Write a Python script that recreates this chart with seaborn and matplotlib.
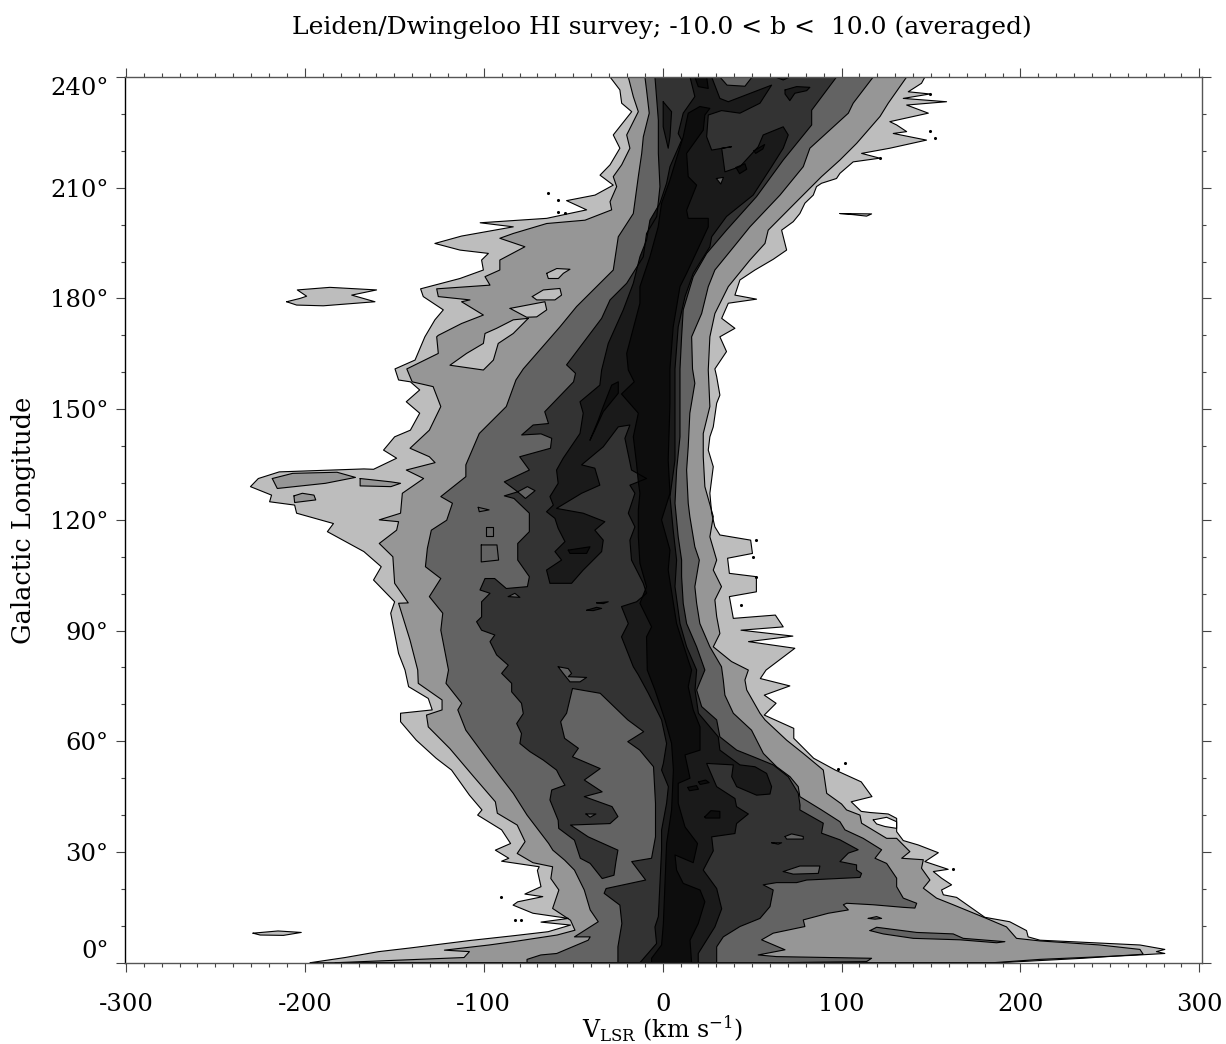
import matplotlib
matplotlib.use("Agg")
import matplotlib.pyplot as plt
import seaborn as sns
from matplotlib.ticker import MultipleLocator

# contour outlines as (velocity km/s, longitude deg)
# level 1 is the faintest HI contour, level 6 the brightest
L1_LEFT = [(-197, 0), (-177.5, 1.4), (-158.7, 3), (-141, 4), (-108, 6), (-83.5, 7.3), (-64, 8.4), (-51.5, 10.2),
           (-68, 11), (-52.6, 12), (-72.5, 13.4), (-83.6, 15.6), (-81, 16.5), (-67, 17.9), (-77, 18.6), (-68, 20.6),
           (-70, 25), (-69, 26), (-90, 27.5), (-86, 28.3), (-93.5, 30.5), (-85, 32.3), (-90, 36), (-103.4, 40),
           (-101, 41.4), (-108, 45.4), (-118, 52.2), (-126.6, 55.4), (-137.7, 60.3), (-146.5, 65.3), (-146.5, 67.6),
           (-128.8, 68.5), (-131, 71.6), (-142, 74.8), (-144, 79.3), (-147.6, 83.8), (-149.8, 89.2), (-152, 94.7),
           (-149.8, 97.8), (-161.6, 103.7), (-157.3, 107.3), (-167, 111.4), (-187.4, 116.8), (-184, 119),
           (-204.6, 121.8), (-205.7, 124), (-219.7, 124.9), (-218.6, 126.7), (-230.4, 129), (-226, 131.2),
           (-214.3, 133), (-167, 133.8), (-161.6, 133.7), (-148.7, 136.7), (-156, 138.9), (-149.8, 142.5), (-141, 144.3),
           (-135.8, 148.9), (-143.3, 152), (-135.8, 155.2), (-141, 157.4), (-147.6, 157.9), (-149.6, 160.9),
           (-138.4, 163.3), (-132.9, 169.6), (-127.3, 174.2), (-122.6, 176.9), (-133.8, 180.5), (-135.3, 182.6),
           (-113.3, 185.4), (-100.2, 187.7), (-101.2, 190.4), (-97.4, 192.2), (-113.3, 193.1), (-127.3, 194.9),
           (-112.4, 196.9), (-83.5, 199.4), (-102, 200.5), (-64.8, 201.7), (-42.5, 204), (-53.7, 206.5),
           (-37.8, 208), (-27.6, 210.7), (-35, 213.4), (-29.4, 216.2), (-23.9, 220.7), (-27.6, 224.3),
           (-17.3, 230.6), (-22.9, 232.9), (-23.9, 236.5), (-29.4, 240)]
L1_RIGHT = [(184.8, 0), (210.9, 0.9), (263, 2), (280.7, 2.5), (276, 3), (280.7, 3.6), (266.8, 4.8), (210.9, 6.1),
            (204.3, 7), (203.4, 8.7), (194, 11.1), (180.1, 12.3), (164.3, 17.7), (156.9, 18.4), (155.9, 19.7),
            (161.5, 21.1), (155.9, 22.9), (151.3, 24.7), (159.6, 25.3), (146.6, 27.4), (154.1, 29.8), (142.9, 31.9),
            (134.5, 33.1), (130.8, 35.5), (130.8, 39.1), (126.1, 40.3), (115.9, 40.7), (111, 41), (105.4, 43.6),
            (117, 45), (111, 49), (96.5, 52.2), (84.4, 55.4), (73.3, 60.8), (73.3, 63.5), (56.8, 67.1), (63.4, 70.3),
            (56.8, 72.5), (71.1, 75), (54.6, 77), (57.8, 79.3), (73.9, 85.2), (48, 87), (72.8, 88.5), (43.8, 90.1),
            (67.4, 91), (63, 94.2), (39.5, 93.3), (37.3, 99.2), (52.4, 100.5), (52.4, 104.6), (37.3, 105.5),
            (36.3, 109.6), (50.2, 110.9), (49.2, 114.5), (32, 115.9), (29.2, 118.1), (27.4, 121.8), (26.4, 127.2),
            (28.3, 134.4), (25.5, 138.9), (26.4, 142.5), (28.3, 145.2), (30.2, 151.6), (32, 153.8), (30.2, 158.8),
            (29.2, 160.9), (35.7, 165.6), (32, 169.6), (40.4, 171.9),
            (33, 174.6), (36.7, 178.7), (52.5, 179.8), (40.4, 180.9), (43.2, 185), (51.6, 187.7), (61.8, 190.6),
            (69.3, 193.1), (66.5, 198.5), (73, 200.8), (76.7, 203), (79.5, 205.8), (84.2, 208), (86, 210.3),
            (88.8, 211.2), (97.2, 212.5), (99.1, 213.9), (106.5, 217), (121.4, 218),
            (111.2, 219.3), (127, 220.7), (147.5, 222.9), (128.9, 224.7), (136.4, 225.2), (130.8, 227), (127, 227.9),
            (148.5, 230.2), (136.4, 232.4), (158.7, 233.3), (134.5, 234.2), (149.4, 235.4), (137.3, 236),
            (144.7, 238.3), (146.6, 240)]

L2_LEFT = [(-183, 0), (-111, 1.4), (-108, 3), (-122, 3.4), (-97, 4.8), (-83.5, 5.7), (-59, 7.5), (-49, 8.8),
           (-51.5, 11.5), (-61.5, 14.7), (-58, 19.7), (-62.5, 22.8), (-61.5, 26), (-72.5, 27.1), (-81.3, 29.6),
           (-76.9, 32.8), (-81.3, 37.3), (-92.4, 40.5), (-93.5, 43.6), (-105.6, 50.4), (-118.9, 58), (-131, 63.9),
           (-132, 67.1), (-123.3, 68.5), (-123.3, 71.2), (-136.6, 75.7), (-136.9, 79.3), (-141.2, 87.4),
           (-147.6, 97.4), (-142.2, 97.5), (-149.8, 102.8), (-150.8, 110), (-158.4, 113.6), (-148.7, 117.2),
           (-147.6, 119.5), (-158.4, 120), (-146.5, 121.8), (-145.5, 127.2), (-133.6, 131.2), (-143.3, 133.5),
           (-127.2, 135.5), (-130.4, 137.1), (-141.2, 139.4), (-130.4, 144.3), (-124, 150.7), (-128.3, 156.1),
           (-140, 157.4), (-143, 160.9), (-125.4, 165.1), (-126.3, 169.6), (-125.4, 170), (-112.4, 173.2),
           (-100.2, 175.5), (-112.4, 179.1), (-107.7, 179.6), (-125.4, 180.5), (-126.3, 182.6), (-96.5, 183.6),
           (-99.3, 185.9), (-91, 187.7), (-91, 190.4), (-77, 194), (-91, 196.3), (-83.5, 197.6), (-64.8, 200.3),
           (-43.4, 201.2), (-28.5, 204), (-29.4, 206.2), (-25.7, 210.3), (-27.6, 213), (-22.9, 216.2), (-18.3, 220.7),
           (-20.1, 224.3), (-13.6, 230.6), (-16.4, 234.7), (-19.2, 240)]
L2_RIGHT = [(188.5, 0), (235, 1.2), (268.6, 2.3), (266.8, 3.6), (244.4, 4.8), (210.9, 5.9), (197.8, 6.6), (192.2, 9.7),
            (181, 12), (162.4, 15.7), (153.1, 17.5), (145.7, 20.2), (149.4, 22.4), (144.7, 25.6), (145.7, 27.9),
            (133.6, 28.3), (138.2, 30.1), (130.8, 33.7), (125.2, 33.7), (111.2, 37.8), (110.3, 40), (102.8, 41.4),
            (100, 43), (91.7, 45.9), (89.8, 52.2), (78.6, 56.7), (69.3, 60.3), (57.2, 65.8), (54.4, 67.6), (47, 73.9),
            (46, 76.6), (47.9, 79.3), (38.5, 81.6), (28.3, 85.6), (32, 89.2), (30.2, 93.8), (29.2, 98.3), (32.9, 101.9),
            (28.3, 106.4), (30.2, 109.1), (26.4, 115.4), (28.3, 120.9), (23.6, 129), (22.7, 137.1), (22.7, 143.4),
            (26.4, 150.7), (25.5, 160.6), (26.4, 169.6), (29.2, 175.9), (36.7, 183.2), (48.8, 190.4), (57.2, 194.9),
            (59, 198.5), (75.8, 206.7), (88.8, 213), (99.1, 217.5), (108.4, 222), (121.5, 229.3), (126.1, 232.9),
            (136.4, 240)]

L3_LEFT = [(-75.8, 0), (-75.8, 0.9), (-68.1, 2.1), (-59.2, 2.5), (-41.6, 6.1), (-40.5, 7), (-49.3, 7), (-36, 11.1),
           (-40.5, 14.3), (-43.8, 19.7), (-49.3, 25.1), (-54.8, 27.8), (-61.4, 30.5), (-63.7, 32.3), (-75.8, 40),
           (-83.5, 45.9), (-91.3, 50.8), (-101.2, 57.2), (-110, 63), (-114.5, 68.5), (-112.3, 70.3), (-121.1, 75.7),
           (-119.7, 79.3), (-124, 90.1), (-122.9, 94.7), (-130.4, 99.2), (-124, 104.1), (-132.6, 107.3),
           (-131.5, 112.3), (-129.3, 117.2), (-120.7, 119.9), (-117.5, 124.5), (-124, 126.3), (-110, 131.7),
           (-110, 134.9), (-102.5, 143.4), (-87.4, 150.7), (-82, 157.9), (-77.9, 160.9), (-57.4, 172.3),
           (-48.1, 177.8), (-27.6, 187.7), (-24.8, 196.7), (-16.4, 203), (-13.6, 213), (-11.7, 219.3), (-10.8, 223.8),
           (-7.5, 230.2), (-9, 236.5), (-9.9, 240)]
L3_RIGHT = [(63.7, 0), (114, 0.3), (116.8, 1.2), (63.7, 1.65), (53.4, 2.1), (68.4, 3.5), (55.3, 6.2), (61.8, 8),
            (79.5, 9.8), (78.6, 11.6), (92.6, 13.4), (103.8, 14.3), (101, 15.7), (102.8, 16.1), (117.7, 15.7),
            (134.5, 15), (141, 14.8), (142, 16.1), (134.5, 17.5), (130.8, 20.6), (130.8, 22.9), (125.2, 26.9),
            (118.7, 28.3), (122.4, 30.6), (112.1, 33.7), (101.9, 36), (99.1, 38.2), (88.8, 41.4), (76.7, 45),
            (75.8, 47.7), (71.2, 50.4), (63.7, 53.1), (56.3, 56.7), (49.7, 63), (39.5, 67.6), (34.8, 72.5),
            (33.9, 76.6), (32.9, 80.2), (26.4, 85.6), (20.8, 91.9), (19, 97.4), (18, 101.9), (20.5, 109.1),
            (18, 112.7), (15.2, 120.9), (14.3, 124.5), (13.4, 133.5), (14.3, 139.8), (15.2, 148.9), (18, 157),
            (16.7, 160.9), (16.2, 169.6), (21.8, 175.9), (25.5, 183.2), (29.2, 187.7), (41.3, 194.9), (48.8, 199.4),
            (65.6, 208), (78.6, 215.7), (82.3, 220.7), (103.8, 230.2), (106.5, 232.9), (117.7, 240)]

L4_LEFT = [(-25, 0), (-25, 4.3), (-22.8, 10.6), (-23.9, 15.6), (-32.7, 18.8), (-31.6, 20.1), (-9.5, 22.4), (-17.3, 27.4),
           (-6.2, 28.3), (-4, 34.1), (-4, 43.2), (-5.1, 53.1), (-12.8, 57.6), (-19.5, 59.9), (-10.6, 62.6),
           (-19.5, 65.8), (-34.9, 73), (-50.4, 74.3), (-53.7, 67.6), (-57, 65.3), (-54.8, 60.8), (-47.1, 58.1),
           (-50.4, 55.8), (-34.9, 52.6), (-43.8, 49.5), (-33.8, 46.3), (-43.8, 45), (-28.3, 42.3), (-25, 39.6),
           (-29.4, 37.7), (-51.5, 37.3), (-41.6, 34.1), (-25, 30.5), (-26.1, 27.4), (-27.2, 23.7), (-33.8, 22.8),
           (-40.5, 26.9), (-46, 28.3), (-49.3, 33.2), (-58.1, 36.4), (-58.4, 38.6), (-63, 44.1), (-62, 46.8),
           (-54.6, 48.1), (-57.4, 50.4), (-59.3, 52.2), (-66.7, 54.9), (-74.2, 57.2), (-79.8, 59.4), (-78.9, 62.1),
           (-81.6, 64.8), (-77.9, 67.5), (-78.9, 70.3), (-84.4, 73.4), (-84.4, 75.7), (-90, 78.4), (-86.3, 80.6),
           (-92.8, 83.4), (-96.5, 87), (-93.8, 88.8), (-101.2, 90.1), (-104, 92.4), (-101.2, 93.7), (-101.2, 97.8),
           (-96.5, 100.1), (-102.1, 101), (-99.3, 104.1), (-93.9, 104.1), (-87.4, 101.4), (-75.6, 101.9),
           (-74.5, 104.6), (-81, 109.1), (-81, 113.6), (-74.5, 116.8), (-74.5, 121.8), (-83.1, 125.8), (-88.5, 126.5),
           (-81, 127.6), (-88.5, 130.3), (-74.5, 133.5), (-79.9, 137.1), (-62.7, 139.4), (-62, 142.1), (-68, 143.3),
           (-78.8, 143), (-72.4, 145.7), (-63.8, 146.1), (-65.9, 149.3), (-49.8, 157.4), (-48.7, 159.7), (-53.7, 162),
           (-34.1, 174.6), (-29.4, 179.6), (-20.1, 184.1), (-10.8, 191.3), (-9, 197.6), (-3.3, 202.2), (-1.5, 210.3),
           (-2.4, 219.3), (-2.4, 228.3), (-4.3, 240)]
L4_RIGHT = [(30.2, 0), (30.2, 4.3), (33.9, 7), (43.2, 9.8), (54.4, 12), (60, 15.2), (61.8, 19.7), (56.2, 21.1),
            (63.7, 21.7), (74.9, 21.7), (80.5, 22.4), (110.3, 23.1), (111.2, 24.2), (108.4, 25.1), (108.4, 26.5),
            (99.1, 27.4), (103.8, 29.7), (109.3, 30.6), (99.1, 33.3), (88.8, 35.1), (89.8, 37.8), (76.7, 41.4),
            (76.8, 42.7), (75.8, 45.9), (70.2, 50.4), (61.8, 53.6), (50.7, 55.8), (41.4, 57.6), (32, 61.2),
            (30.2, 65.8), (21.8, 69.4), (19, 73.9), (23.6, 79.3), (19, 85.6), (13.4, 91.9), (11.5, 97.4), (10.6, 104.6),
            (10.6, 109.1), (8.7, 115.4), (6.9, 124.5), (7.8, 133.5), (9.7, 142.5), (9.7, 151.6), (9.7, 160.9),
            (10.6, 169.6), (11.5, 176.9), (17.1, 185.9), (24.6, 192.2), (35.7, 198.5), (52.5, 207.6), (67.4, 217.5),
            (83.3, 227), (83.3, 231), (97.2, 240)]

L5_LEFT = [(-12.7, 0), (-3.4, 5.2), (-4.3, 9.7), (-2.4, 12.5), (-1.5, 21.5), (-0.6, 30.5), (-0.6, 35.9), (2.2, 43.2),
           (3.2, 47.7), (-0.6, 52.2), (0.4, 54), (2.2, 59.4), (-0.6, 65.8), (-8, 73), (-13.6, 78), (-16.4, 80.2),
           (-23, 88.3), (-19.2, 91.9), (-23, 96.5), (-14.6, 97.8), (-9, 100.1), (-10.8, 102.8), (-17.4, 109.1),
           (-18.3, 114.5), (-15.5, 118.1), (-19.2, 121.8), (-15.5, 127.2), (-18.3, 129.4), (-9, 131.2), (-17.4, 133.5),
           (-21.1, 142.1), (-18.3, 145.7), (-24.8, 145.2), (-33.2, 139.8), (-45.3, 134.9), (-37.9, 134), (-35.1, 129.4),
           (-45.3, 127.2), (-59.3, 123.1), (-44.4, 121.8), (-32.3, 119.5), (-37.9, 117.2), (-33.2, 114.5),
           (-34.1, 111.4), (-44.4, 106.4), (-50.9, 102.8), (-63, 102.8), (-64.9, 106.4), (-56.5, 109.1), (-60.2, 111.4),
           (-54.6, 114.1), (-58.4, 117.7), (-60.2, 120.4), (-64.9, 122.2), (-61.1, 124), (-63, 126.3), (-58.4, 129.9),
           (-59.3, 133.5), (-55.6, 136.7), (-46.2, 143.4), (-44.4, 148.9), (-46.2, 152), (-35.1, 156.5), (-34.1, 160.6),
           (-30.4, 167.8), (-22, 176.9), (-16.4, 184.1), (-12.7, 191.3), (-9, 195.8), (-7.1, 201.2), (-1.5, 205.8),
           (2.2, 211.2), (4.1, 215.7), (10.6, 222.9), (8.7, 224.7), (11.5, 230.2), (18, 234.7), (15.3, 240)]
L5_RIGHT = [(19.9, 0), (19.9, 2.5), (29.2, 9.7), (33, 14.6), (30.2, 20.1), (22.7, 25.1), (28.3, 30.3), (27.4, 34.1),
            (40.4, 35), (41.3, 37.7), (47.9, 40.3), (41.3, 42.3), (40.4, 44.5), (30.2, 47.7), (24.6, 54), (39.5, 53.6),
            (38.6, 50.4), (41.4, 47.7), (52.5, 45.4), (60, 45.7), (60.9, 47.7), (58.1, 51.3), (51.6, 53.1), (43.2, 53.6),
            (32, 57.6), (31.1, 61.2), (20, 67.6), (18.1, 73.9), (19, 79.3), (13.4, 85.6), (9.7, 91.9), (6.9, 101.9),
            (7.8, 109.1), (5.9, 117.2), (4.1, 126.3), (6.9, 136.2), (6.9, 147), (6.9, 160.9), (8.7, 172.3), (12.5, 180.5),
            (17.1, 186.8), (26.4, 194), (27.4, 196.7), (35.7, 202.2), (50.6, 208), (60.9, 215.7), (67.4, 220.7),
            (70.2, 224.3), (67.4, 226.5), (56.2, 224.3), (53.4, 221.1), (43.2, 215.7), (34.8, 214.3), (33, 220.7),
            (38.5, 221.1), (27.4, 220.2), (24.6, 223.8), (25.5, 229.7), (32.9, 230.9), (43.2, 230.2), (54.4, 232.9),
            (60.9, 237.8), (36.7, 233.3), (32, 234.2), (30.2, 236.5), (27.4, 240)]

L6_LEFT = [(-6.2, 0), (-6.2, 1.2), (-0.6, 4.8), (0.4, 10.6), (1.3, 21.5), (2.2, 32.3), (5, 41.4), (6, 52.2), (5, 59.4),
           (1.3, 65.8), (-4.3, 73.9), (-8.6, 79.3), (-9, 88.3), (-6.2, 91), (-12.7, 97.4), (-9, 101.9), (-12.7, 108.2),
           (-13.6, 115.4), (-13.6, 122.7), (-12.7, 127.2), (-13.6, 130.3), (-14.6, 135.3), (-16.4, 142.5),
           (-13.6, 148.9), (-23, 154.1), (-15.9, 157.4), (-19.2, 160.6), (-20.1, 165.1), (-12.7, 178.7), (-12.7, 183.2),
           (-7.1, 191.3), (-2.5, 199.4), (-0.6, 205.8), (4.1, 212.1), (6.9, 216.6), (11.5, 223.8), (14.3, 230.2),
           (20.8, 232)]
L6_RIGHT = [(16.2, 0), (15.3, 6.1), (19.9, 10.6), (23.6, 16.5), (20.9, 19.7), (11.5, 21.5), (7.8, 25.1), (6.9, 29.2),
            (17.1, 27.1), (19.5, 32.3), (12.5, 36.8), (8.7, 43.2), (8.7, 48.6), (15.3, 50), (12.5, 56.3), (20.9, 57.6),
            (20.9, 63.9), (17.1, 68.5), (14.3, 74.8), (16.2, 79.3), (14.3, 82), (7.8, 91.9), (3.1, 106.4), (4.1, 111.8),
            (-0.6, 120), (4.1, 127.2), (3.1, 136.2), (4.1, 151.6), (4.1, 160.9), (5.9, 172.3), (9.7, 183.2),
            (13.4, 186.8), (25.5, 199.4), (25.5, 201.7), (14.3, 201.7), (13.4, 203.9), (19, 210.7), (14.3, 213),
            (13.4, 219.3), (22.7, 225.6), (23.6, 229.7), (26.4, 231.5)]

# closed features: faint patches away from the main band and holes inside it
FAR_PATCH = [(-210.2, 179.1), (-202.7, 180), (-199, 180.6), (-204.2, 182.3), (-186, 183), (-159.9, 182.3),
             (-173.8, 180.9), (-160.8, 179.1), (-189.7, 178), (-204.6, 178.2)]
DASH_203 = [(99.1, 203), (116.8, 202.9), (114, 202.3), (106.5, 202.7)]
DASH_8 = [(-229, 8), (-215, 8.6), (-202, 8.2), (-212, 7.4), (-225, 7.5)]
HOLE_38 = [(117.7, 38.7), (125.2, 39.4), (130.8, 38.2), (130.8, 36.4), (124.3, 36.9), (119.6, 37.6)]

FAINT_A = [(-64.8, 186.8), (-59.2, 188.1), (-51.8, 187.9), (-55.5, 186.8), (-58.3, 185.4), (-63.9, 185.4)]
FAINT_B = [(-72.9, 180.5), (-66.7, 182.3), (-57.4, 182.7), (-56.5, 180.9), (-60.2, 179.6), (-70.4, 179.6)]
FAINT_C = [(-85.3, 177.3), (-65.8, 179.1), (-64.8, 176.9), (-70.4, 175), (-76, 174.9)]
FAINT_D = [(-75.1, 174.6), (-83.5, 174.2), (-92.8, 171.9), (-99.3, 170.5), (-100.2, 167.8), (-109.6, 165.1),
           (-118.9, 161.9), (-100.2, 160.6), (-94.6, 163.3), (-91.9, 167.8), (-83.5, 170.5)]

SPUR_A = [(-218.2, 131.2), (-206.8, 132.6), (-182, 132.9), (-171.7, 131.5), (-188.5, 129.9), (-215.4, 128.5)]
SPUR_B = [(-206.1, 126.5), (-201.4, 127.2), (-194.9, 126.7), (-193.9, 125.4), (-205.7, 124.7)]
SPUR_C = [(-169.1, 131.2), (-151.9, 130.3), (-146.5, 129.9), (-151.9, 129), (-169.1, 129.2)]

MID_A = [(-101.4, 113.2), (-92.6, 113.2), (-91.7, 109.1), (-101.4, 108.6)]
MID_B = [(-103.1, 123.4), (-97, 122.7), (-102.5, 122.2)]
MID_C = [(-98.5, 118), (-95, 118), (-95, 115.5), (-98.5, 115.5)]
SLIVER_A = [(115.9, 8.7), (119.6, 9.6), (142, 8.2), (162.4, 7.8), (168, 6.6), (191.3, 5.7), (186.7, 5.4), (166.2, 6.2),
            (140.1, 6.6), (123.3, 7.8)]
SLIVER_B = [(114.9, 12), (119.6, 12.5), (122.4, 12), (118.7, 11.8)]

POCKET_A = [(-81, 127.6), (-75.6, 129), (-71.3, 127.9), (-76.7, 125.8)]
POCKET_B = [(-86.3, 99.2), (-82.6, 100.1), (-79.8, 99)]
POCKET_C = [(-58.4, 80.2), (-52.8, 79.7), (-50.9, 78.4), (-52.8, 77.5), (-42.5, 77.3), (-46.2, 76.1), (-51.8, 76.1),
            (-55.6, 78.4)]
POCKET_D = [(-42.9, 40.3), (-37.3, 40.3), (-40.6, 39.4)]
POCKET_E = [(68.4, 34.2), (72.1, 34.9), (78.6, 34.2), (78.6, 33.5), (69.3, 33.5)]
POCKET_F = [(60.9, 32.5), (66.5, 32.5), (64.6, 32.1)]
POCKET_G = [(67.4, 24.7), (76.7, 26.2), (87.9, 26.2), (87, 24.2), (73, 24)]
POCKET_I = [(32, 240), (36, 237.8), (46, 237.5), (50, 240)]
POCKET_J = [(30, 212.5), (34, 212.8), (32.5, 211)]

BRIGHT_A = [(-42.5, 95.5), (-36.9, 96.3), (-34.1, 96), (-38.8, 95.4)]
BRIGHT_B = [(-36.9, 97.5), (-30.4, 97.8), (-33.2, 97.3)]
BRIGHT_C = [(0.3, 233.3), (5, 230.6), (4.1, 223.8), (3.1, 220.7), (0.3, 226.5)]
BRIGHT_D = [(68.4, 236.5), (74.9, 237.4), (82.3, 237.2), (80.5, 236.3), (73.9, 235.6), (71.1, 233.6), (68.4, 235.4)]
BRIGHT_E = [(62.8, 240), (71.1, 240), (67.4, 239.2)]

TOP_B = [(-52.8, 111.8), (-40.6, 112.7), (-42.5, 110.9), (-51.8, 110.9)]
TOP_C = [(-40.6, 141.6), (-36, 147), (-33.2, 150.7), (-28.5, 156.5), (-24.8, 157.4), (-24.8, 154.3), (-33.2, 149.3),
         (-37.9, 144.3)]
TOP_D = [(18, 240), (24.6, 240), (25.5, 236.9), (19.9, 237.4)]
TOP_E = [(23.5, 39.5), (27, 41.2), (32, 41), (32, 39.2), (24, 39.2)]
TOP_F = [(14, 47.5), (19, 48), (20, 47), (15, 46.6)]
TOP_G = [(20, 49), (24, 49.5), (26, 48.8), (21, 48.3)]
TOP_H = [(41, 215.5), (46, 216.5), (47, 215), (43, 213.8)]
TOP_I = [(51, 220), (57, 221.7), (56, 220.5), (52, 219.3)]

# tiny contour specks outside the band
DOT_V = [149.4, 152.2, 121.4, 149.4, -63.9, -58.3, -58.3, -54.6, 162.4, -90.2, -82.4, -79.1, 52, 50.5, 52, 44, 102, 98]
DOT_L = [225.5, 223.4, 218, 235.4, 208.5, 206.7, 203.5, 203.2, 25.4, 17.9, 11.5, 11.5, 114.5, 110, 104.5, 97, 54, 52.5]

LEVEL_GREYS = ["#bdbdbd", "#969696", "#636363", "#333333", "#1a1a1a", "#0d0d0d"]
WHITE = "#ffffff"

X_TICKS = [-300, -200, -100, 0, 100, 200, 300]
Y_TICKS = [0, 30, 60, 90, 120, 150, 180, 210, 240]
Y_TICK_LABELS = ["0°", "30°", "60°", "90°", "120°", "150°", "180°", "210°", "240°"]
TITLE = "Leiden/Dwingeloo HI survey; -10.0 < b <  10.0 (averaged)"


def draw_patch(ax, points, color):
    vs = [p[0] for p in points] + [points[0][0]]
    ls = [p[1] for p in points] + [points[0][1]]
    ax.fill(vs, ls, color=color, lw=0)
    sns.lineplot(x=vs, y=ls, sort=False, estimator=None, color="black", lw=0.8, ax=ax, legend=False)


def draw_level(ax, left, right, color):
    draw_patch(ax, left + right[::-1], color)


sns.set_theme(style="ticks")
plt.rcParams["font.family"] = ["DejaVu Serif"]
plt.rcParams["mathtext.fontset"] = "custom"
plt.rcParams["mathtext.rm"] = "DejaVu Serif"
plt.rcParams["mathtext.default"] = "rm"
plt.rcParams["axes.unicode_minus"] = False

fig = plt.figure(figsize=(12.26, 10.44), dpi=100)
ax = fig.add_axes([124.5 / 1226, 1 - 962.7 / 1044, 1077 / 1226, 885.7 / 1044])

draw_level(ax, L1_LEFT, L1_RIGHT, LEVEL_GREYS[0])
draw_patch(ax, FAR_PATCH, LEVEL_GREYS[0])
draw_patch(ax, DASH_203, LEVEL_GREYS[0])
draw_patch(ax, DASH_8, LEVEL_GREYS[0])
draw_patch(ax, HOLE_38, WHITE)

draw_level(ax, L2_LEFT, L2_RIGHT, LEVEL_GREYS[1])
for patch in [FAINT_A, FAINT_B, FAINT_C, FAINT_D]:
    draw_patch(ax, patch, LEVEL_GREYS[0])
for patch in [SPUR_A, SPUR_B, SPUR_C]:
    draw_patch(ax, patch, LEVEL_GREYS[1])

draw_level(ax, L3_LEFT, L3_RIGHT, LEVEL_GREYS[2])
for patch in [MID_A, MID_B, MID_C, SLIVER_A, SLIVER_B]:
    draw_patch(ax, patch, LEVEL_GREYS[2])

draw_level(ax, L4_LEFT, L4_RIGHT, LEVEL_GREYS[3])
for patch in [POCKET_A, POCKET_B, POCKET_C, POCKET_D, POCKET_E, POCKET_F, POCKET_G, POCKET_I]:
    draw_patch(ax, patch, LEVEL_GREYS[2])

draw_level(ax, L5_LEFT, L5_RIGHT, LEVEL_GREYS[4])
draw_patch(ax, POCKET_J, LEVEL_GREYS[2])
for patch in [BRIGHT_A, BRIGHT_B, BRIGHT_C, BRIGHT_D, BRIGHT_E]:
    draw_patch(ax, patch, LEVEL_GREYS[4])

draw_level(ax, L6_LEFT, L6_RIGHT, LEVEL_GREYS[5])
for patch in [TOP_B, TOP_C, TOP_D, TOP_E, TOP_F, TOP_G, TOP_H, TOP_I]:
    draw_patch(ax, patch, LEVEL_GREYS[5])

sns.scatterplot(x=DOT_V, y=DOT_L, s=5, color="black", linewidth=0, ax=ax, legend=False)

ax.set_xlim(-300.8, 301.2)
ax.set_ylim(0, 240)
ax.set_xticks(X_TICKS)
ax.set_yticks(Y_TICKS)
ax.set_yticklabels(Y_TICK_LABELS)
ax.xaxis.set_minor_locator(MultipleLocator(10))
ax.yaxis.set_minor_locator(MultipleLocator(10))
ax.tick_params(which="both", direction="out", top=True, right=True, color="#444444", width=0.8,
               labelsize=17.5, labelcolor="black")
ax.tick_params(which="major", length=6.5, pad=5)
ax.tick_params(which="minor", length=3.2)
ax.tick_params(axis="x", pad=15)
for side in ["top", "right", "bottom"]:
    ax.spines[side].set_color("#555555")
    ax.spines[side].set_linewidth(1.0)
ax.spines["left"].set_color("black")
ax.spines["left"].set_linewidth(1.0)

# end labels sit inside the axis range
y_labels = ax.get_yticklabels()
y_labels[0].set_va("bottom")
y_labels[-1].set_va("top")

fig.text(662 / 1226, 1 - 27 / 1044, TITLE, ha="center", va="center", fontsize=18, color="black")
fig.text(662 / 1226, 1 - 1029 / 1044, r"$\mathrm{V_{LSR}\ (km\ s^{-1})}$", ha="center", va="center",
         fontsize=17, color="black")
fig.text(24 / 1226, 1 - 520 / 1044, "Galactic Longitude", ha="center", va="center", rotation=90,
         fontsize=18.5, color="black")

fig.savefig("out.png", dpi=100)
